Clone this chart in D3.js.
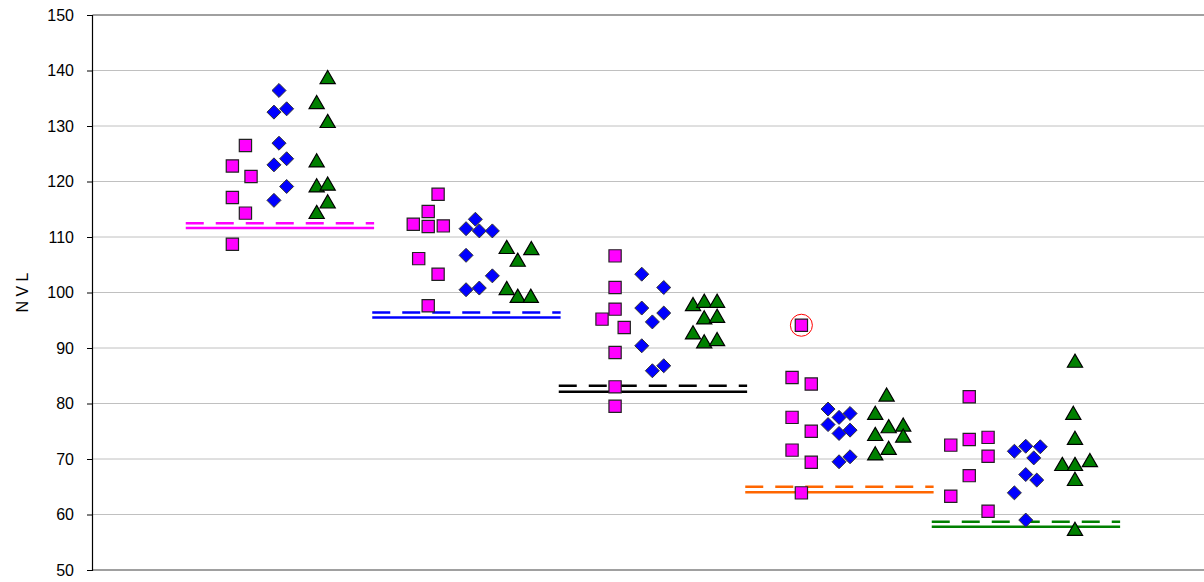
<!DOCTYPE html>
<html>
<head>
<meta charset="utf-8">
<script src="https://cdn.jsdelivr.net/npm/d3@7"></script>
<style>
  html, body { margin: 0; padding: 0; background: #fff; }
  svg { display: block; }
  text { font-family: "Liberation Sans", Arial, sans-serif; }
</style>
</head>
<body>
<svg id="chart" width="1204" height="582"></svg>
<script>
// ---- data ----
const yTicks = [50, 60, 70, 80, 90, 100, 110, 120, 130, 140, 150];
const yLabel = "N V L";

const squareX = [0.82,0.75,0.85,0.75,0.82,0.75,
  1.853,1.80,1.72,1.80,1.881,1.749,1.853,1.80,
  2.802,2.802,2.802,2.732,2.851,2.802,2.802,2.802,
  3.801,3.751,3.854,3.751,3.854,3.751,3.854,3.801,
  4.701,4.602,4.701,4.802,4.802,4.701,4.602,4.802];
const squareY = [126.5,122.8,120.9,117.1,114.3,108.7,
  117.7,114.6,112.3,111.9,112.0,106.1,103.3,97.6,
  106.6,100.9,97.0,95.2,93.7,89.2,83.0,79.5,
  94.1,84.7,83.5,77.5,75.0,71.6,69.4,63.9,
  81.2,72.5,73.5,73.9,70.5,67.0,63.3,60.6];

const diamondX = [1.0,0.973,1.041,1.0,0.973,1.041,1.041,0.973,
  2.053,2.003,2.074,2.144,2.003,2.144,2.003,2.074,
  2.945,3.063,2.945,3.063,3.002,2.945,3.063,3.002,
  3.944,4.062,4.003,3.944,4.062,4.003,4.003,4.062,
  5.004,5.082,4.943,5.047,5.004,5.063,4.943,5.004];
const diamondY = [136.4,132.5,133.1,126.9,123.0,124.1,119.1,116.6,
  113.2,111.5,111.1,111.1,106.7,103.0,100.5,100.8,
  103.3,100.9,97.2,96.3,94.7,90.4,86.8,85.9,
  79.0,78.2,77.5,76.2,75.2,74.6,69.5,70.4,
  72.3,72.2,71.4,70.2,67.2,66.2,63.9,59.0];

const triangleX = [1.261,1.202,1.261,1.202,1.202,1.261,1.261,1.202,
  2.221,2.353,2.28,2.221,2.28,2.35,
  3.22,3.28,3.349,3.28,3.349,3.22,3.28,3.349,
  4.258,4.197,4.269,4.347,4.197,4.347,4.269,4.197,
  5.268,5.259,5.268,5.20,5.268,5.348,5.268,5.268];
const triangleY = [138.6,134.1,130.7,123.6,119.1,119.4,116.2,114.3,
  108.0,107.8,105.7,100.6,99.2,99.2,
  97.7,98.3,98.3,95.3,95.6,92.6,91.0,91.4,
  81.4,78.1,75.7,76.0,74.3,74.0,71.8,70.8,
  87.5,78.1,73.6,68.9,68.9,69.6,66.2,57.2];

const groupStart = [0.5, 1.5, 2.5, 3.5, 4.5];
const groupEnd = [1.51, 2.51, 3.51, 4.51, 5.51];
const dashedVal = [112.5, 96.4, 83.2, 65.0, 58.7];
const solidVal = [111.6, 95.5, 82.1, 64.0, 57.8];
const lineColors = ["#ff00ff", "#0000ff", "#000000", "#ff6600", "#008000"];

const outlierX = [3.801];
const outlierY = [94.1];

// ---- chart ----
const svg = d3.select("#chart");
const x = d3.scaleLinear().domain([0, 6]).range([92.5, 1211.5]);
const y = d3.scaleLinear().domain([50, 150]).range([570, 15]);

// gridlines
svg.append("g").selectAll("line").data(yTicks.filter(t => t > 50 && t < 150)).join("line")
  .attr("x1", x(0)).attr("x2", 1204)
  .attr("y1", d => y(d)).attr("y2", d => y(d))
  .attr("stroke", "#c0c0c0").attr("stroke-width", 1);

// top border
svg.append("line").attr("x1", x(0)).attr("x2", 1204).attr("y1", y(150)).attr("y2", y(150))
  .attr("stroke", "#808080").attr("stroke-width", 1.5);
// bottom axis
svg.append("line").attr("x1", x(0)).attr("x2", 1204).attr("y1", y(50)).attr("y2", y(50))
  .attr("stroke", "#808080").attr("stroke-width", 1.5);

// y axis
const yAxis = d3.axisLeft(y).tickValues(yTicks).tickSize(5).tickPadding(13);
const gy = svg.append("g").attr("transform", `translate(${x(0) - 0.5},0)`).call(yAxis);
gy.select(".domain").attr("stroke", "#000").attr("stroke-width", 1.2);
gy.selectAll(".tick line").attr("stroke", "#000");
gy.selectAll(".tick text").attr("font-size", 16).attr("fill", "#000")
  .attr("font-family", "Liberation Sans, Arial, sans-serif");

svg.append("text")
  .attr("transform", `translate(28,${(y(150) + y(50)) / 2}) rotate(-90)`)
  .attr("text-anchor", "middle").attr("font-size", 16).attr("fill", "#000")
  .text(yLabel);

// mean lines
const gl = svg.append("g");
gl.selectAll("line.dash").data(dashedVal).join("line").attr("class", "dash")
  .attr("x1", (d, i) => x(groupStart[i])).attr("x2", (d, i) => x(groupEnd[i]))
  .attr("y1", d => y(d)).attr("y2", d => y(d))
  .attr("stroke", (d, i) => lineColors[i]).attr("stroke-width", 2.5)
  .attr("stroke-dasharray", "18,12");
gl.selectAll("line.solid").data(solidVal).join("line").attr("class", "solid")
  .attr("x1", (d, i) => x(groupStart[i])).attr("x2", (d, i) => x(groupEnd[i]))
  .attr("y1", d => y(d)).attr("y2", d => y(d))
  .attr("stroke", (d, i) => lineColors[i]).attr("stroke-width", 2.5);

// markers
const sq = d3.symbol().type(d3.symbolSquare).size(150);
const di = d3.symbol().type(d3.symbolDiamond2).size(125);
const tr = d3.symbol().type(d3.symbolTriangle).size(100);

svg.append("g").selectAll("path").data(squareX.map((v, i) => [v, squareY[i]])).join("path")
  .attr("d", sq).attr("transform", d => `translate(${x(d[0])},${y(d[1])})`)
  .attr("fill", "#ff00ff").attr("stroke", "#222").attr("stroke-width", 1.2);

svg.append("g").selectAll("path").data(diamondX.map((v, i) => [v, diamondY[i]])).join("path")
  .attr("d", di).attr("transform", d => `translate(${x(d[0])},${y(d[1])})`)
  .attr("fill", "#0000ff").attr("stroke", "#333").attr("stroke-width", 1);

svg.append("g").selectAll("path").data(triangleX.map((v, i) => [v, triangleY[i]])).join("path")
  .attr("d", tr).attr("transform", d => `translate(${x(d[0])},${y(d[1]) + 1})`)
  .attr("fill", "#008000").attr("stroke", "#000").attr("stroke-width", 1.2);

// outlier circle
svg.append("g").selectAll("circle").data(outlierX.map((v, i) => [v, outlierY[i]])).join("circle")
  .attr("cx", d => x(d[0])).attr("cy", d => y(d[1])).attr("r", 11)
  .attr("fill", "none").attr("stroke", "#ff0000").attr("stroke-width", 1);
</script>
</body>
</html>
